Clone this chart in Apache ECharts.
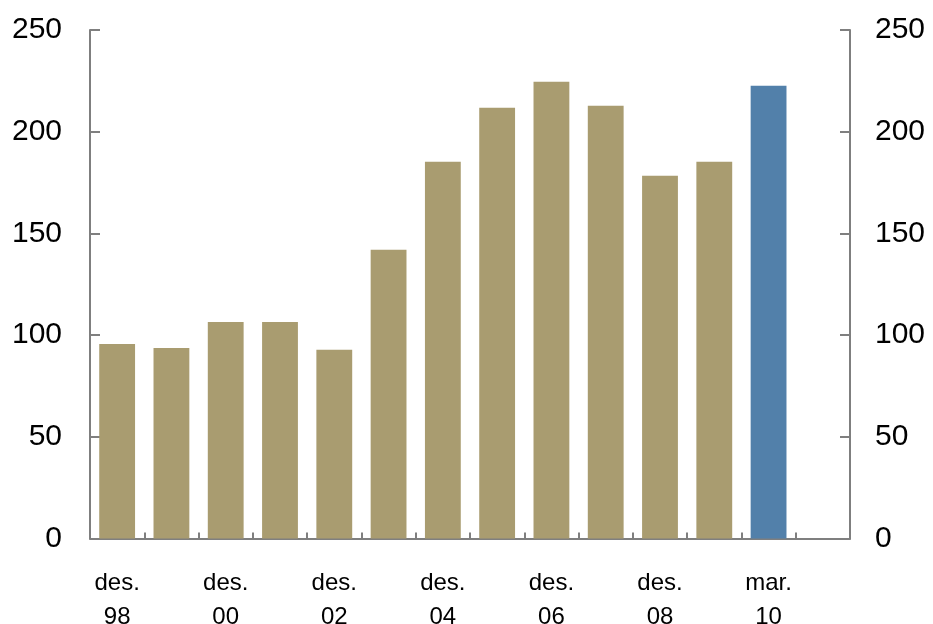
<!DOCTYPE html>
<html>
<head>
<meta charset="utf-8">
<script src="https://cdn.jsdelivr.net/npm/echarts@6/dist/echarts.min.js"></script>
<style>html,body{margin:0;padding:0;background:#fff}#c{width:933px;height:624px}</style>
</head>
<body>
<div id="c"></div>
<script>
const categories = ['des.\n98','des.\n99','des.\n00','des.\n01','des.\n02','des.\n03','des.\n04','des.\n05','des.\n06','des.\n07','des.\n08','des.\n09','mar.\n10',''];
const values = [95.7, 93.7, 106.5, 106.5, 92.8, 142, 185.2, 211.8, 224.6, 212.8, 178.3, 185.2, 222.6, null];
const highlightIndex = 12;
const yTicks = [0, 50, 100, 150, 200, 250];

const tan = '#A99C70', blue = '#5280AA', axisGray = '#7f7f7f';
const chart = echarts.init(document.getElementById('c'), null, {renderer: 'canvas'});
const yAxisBase = {
  type: 'value', min: yTicks[0], max: yTicks[yTicks.length-1], interval: 50,
  axisLine: {show: true, lineStyle: {color: axisGray, width: 2}},
  axisTick: {show: true, inside: true, length: 10, lineStyle: {color: axisGray, width: 2}},
  splitLine: {show: false},
  axisLabel: {color: '#000', fontSize: 30, fontFamily: 'Liberation Sans, Arial, sans-serif'}
};
chart.setOption({
  animation: false,
  grid: {left: 90, right: 83, top: 30, bottom: 85.4, containLabel: false, outerBoundsMode: 'none'},
  xAxis: {
    type: 'category', data: categories, boundaryGap: true,
    axisLine: {lineStyle: {color: axisGray, width: 2}},
    axisTick: {show: true, inside: true, length: 6, interval: 0, lineStyle: {color: axisGray, width: 2}},
    axisLabel: {interval: 1, color: '#000', fontSize: 24, lineHeight: 34, margin: 28,
      fontFamily: 'Liberation Sans, Arial, sans-serif'}
  },
  yAxis: [
    Object.assign({}, yAxisBase, {position: 'left', axisLabel: Object.assign({}, yAxisBase.axisLabel, {margin: 28})}),
    Object.assign({}, yAxisBase, {position: 'right', axisLabel: Object.assign({}, yAxisBase.axisLabel, {margin: 25})})
  ],
  series: [{
    type: 'bar', yAxisIndex: 0, barCategoryGap: '34%',
    data: values.map((v, i) => ({value: v, itemStyle: {color: i === highlightIndex ? blue : tan}}))
  }]
});
</script>
</body>
</html>
